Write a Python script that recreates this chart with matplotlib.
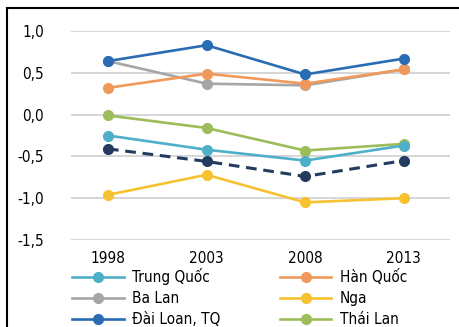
import numpy as np
import matplotlib
matplotlib.use('Agg')
import matplotlib.pyplot as plt
from matplotlib.lines import Line2D

matplotlib.rcParams['font.family'] = ['DejaVu Sans']
matplotlib.rcParams['font.stretch'] = 'condensed'
matplotlib.rcParams['font.size'] = 10.5

years = ['1998', '2003', '2008', '2013']
trung_quoc = [-0.25, -0.42, -0.55, -0.37]
han_quoc = [0.32, 0.49, 0.37, 0.54]
ba_lan = [0.64, 0.37, 0.35, 0.54]
nga = [-0.96, -0.72, -1.05, -1.00]
dai_loan = [0.64, 0.83, 0.48, 0.67]
thai_lan = [-0.01, -0.16, -0.43, -0.35]
khac = [-0.41, -0.56, -0.74, -0.55]

yticks = [1.0, 0.5, 0.0, -0.5, -1.0, -1.5]
ytick_labels = ['1,0', '0,5', '0,0', '-0,5', '-1,0', '-1,5']

fig = plt.figure(figsize=(4.6, 3.27), dpi=100)
ax = fig.add_axes([71/460, 1-240/327, (450-71)/460, (240-31)/327])

x = np.arange(len(years))
style = dict(lw=1.9, marker='o', ms=7, clip_on=False)
ax.plot(x, ba_lan, color='#a6a6a6', label='Ba Lan', **style)
ax.plot(x, han_quoc, color='#f0995a', label='Hàn Quốc', **style)
ax.plot(x, nga, color='#f6c231', label='Nga', **style)
ax.plot(x, thai_lan, color='#9dbd5a', label='Thái Lan', **style)
ax.plot(x, trung_quoc, color='#4eb0c8', label='Trung Quốc', **style)
ax.plot(x, khac, color='#243b60', ls=(0, (3.5, 2.2)), lw=2.2, marker='o', ms=7, clip_on=False)
ax.plot(x, dai_loan, color='#2a6cb3', label='Đài Loan, TQ', **style)

ax.set_xlim(-0.375, 3.47)
ax.set_ylim(-1.5, 1.0)
ax.set_xticks(x)
ax.set_xticklabels(years)
ax.set_yticks(yticks)
ax.set_yticklabels(ytick_labels)
ax.tick_params(length=0, labelsize=11)
ax.tick_params(axis='y', pad=19.5)
ax.tick_params(axis='x', pad=8)
for s in ax.spines.values():
    s.set_visible(False)
ax.grid(axis='y', color='#cccccc', lw=1.1)
ax.set_axisbelow(True)

handles, labels = ax.get_legend_handles_labels()
order = ['Trung Quốc', 'Ba Lan', 'Đài Loan, TQ', 'Hàn Quốc', 'Nga', 'Thái Lan']
h = [handles[labels.index(o)] for o in order]
fig.legend(h, order, ncol=2, loc='upper left', bbox_to_anchor=(72/460, 1-268/327),
           frameon=False, fontsize=11, handlelength=3.4, handletextpad=0.55,
           columnspacing=3.85, labelspacing=0.4, borderaxespad=0, borderpad=0)

# frame lines along the top and left
fig.add_artist(Line2D([7/460, 1], [1-8/327, 1-8/327], color='black', lw=1.5))
fig.add_artist(Line2D([7/460, 7/460], [0, 1-8/327], color='black', lw=1.5))

fig.savefig('out.png', dpi=100)
